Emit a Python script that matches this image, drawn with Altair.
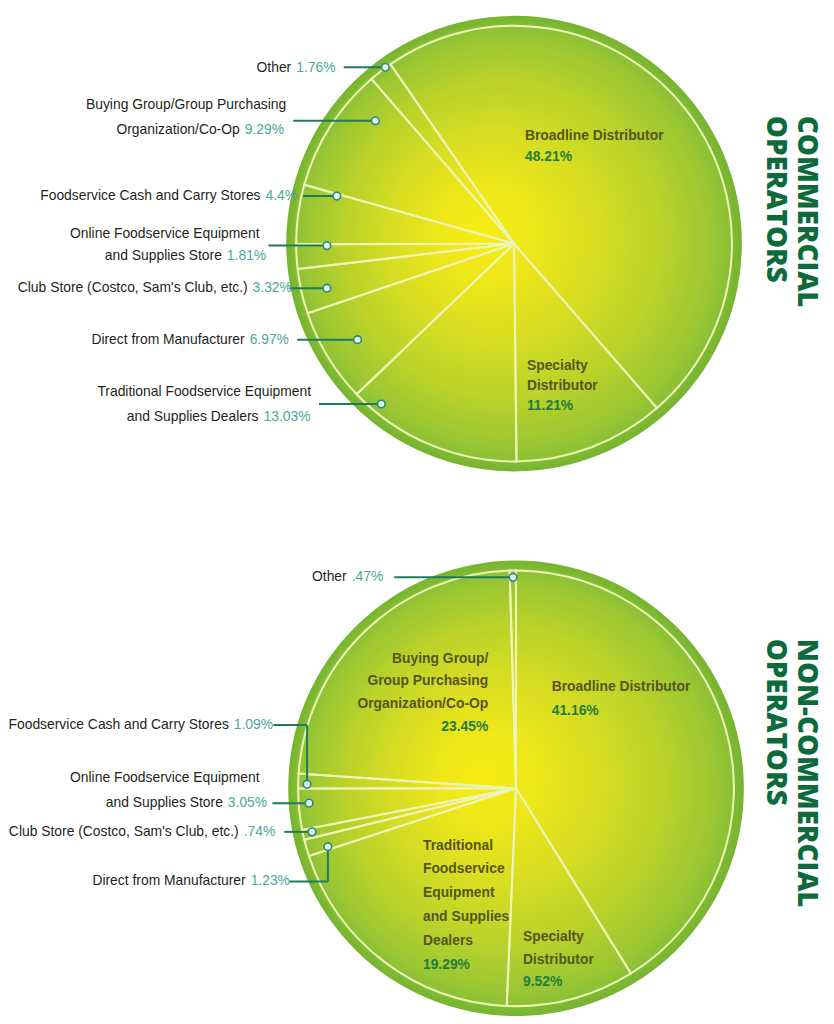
import math
import altair as alt
import pandas as pd

# ---------------- data ----------------
categories = [
    "Broadline Distributor",
    "Specialty Distributor",
    "Traditional Foodservice Equipment and Supplies Dealers",
    "Direct from Manufacturer",
    "Club Store (Costco, Sam's Club, etc.)",
    "Online Foodservice Equipment and Supplies Store",
    "Foodservice Cash and Carry Stores",
    "Buying Group/Group Purchasing Organization/Co-Op",
    "Other",
]
commercial_share = [48.21, 11.21, 13.03, 6.97, 3.32, 1.81, 4.4, 9.29, 1.76]
noncommercial_share = [41.16, 9.52, 19.29, 1.23, 0.74, 3.05, 1.09, 23.45, 0.47]
commercial_pct = ["48.21%", "11.21%", "13.03%", "6.97%", "3.32%", "1.81%", "4.4%", "9.29%", "1.76%"]
noncommercial_pct = ["41.16%", "9.52%", "19.29%", "1.23%", ".74%", "3.05%", "1.09%", "23.45%", ".47%"]

commercial_lines = [
    ["Broadline Distributor"],
    ["Specialty", "Distributor"],
    ["Traditional Foodservice Equipment", "and Supplies Dealers"],
    ["Direct from Manufacturer"],
    ["Club Store (Costco, Sam's Club, etc.)"],
    ["Online Foodservice Equipment", "and Supplies Store"],
    ["Foodservice Cash and Carry Stores"],
    ["Buying Group/Group Purchasing", "Organization/Co-Op"],
    ["Other"],
]
noncommercial_lines = [
    ["Broadline Distributor"],
    ["Specialty", "Distributor"],
    ["Traditional", "Foodservice", "Equipment", "and Supplies", "Dealers"],
    ["Direct from Manufacturer"],
    ["Club Store (Costco, Sam's Club, etc.)"],
    ["Online Foodservice Equipment", "and Supplies Store"],
    ["Foodservice Cash and Carry Stores"],
    ["Buying Group/", "Group Purchasing", "Organization/Co-Op"],
    ["Other"],
]
commercial_title = ["COMMERCIAL", "OPERATORS"]
noncommercial_title = ["NON-COMMERCIAL", "OPERATORS"]

# ---------------- layout (pixels) ----------------
W, H = 826, 1008
XS = alt.Scale(domain=[8, 8 + W], nice=False, zero=False)
YS = alt.Scale(domain=[8, 8 + H], nice=False, zero=False, reverse=True)
R_OUTER, R_SLICE = 230, 220

PIES = {
    "Commercial": dict(cx=519, cy=241, start_deg=325.44, title_y=112,
                       shares=commercial_share, pct=commercial_pct,
                       lines=commercial_lines, title=commercial_title),
    "Non-commercial": dict(cx=521, cy=791, start_deg=0.0, title_y=640,
                           shares=noncommercial_share, pct=noncommercial_pct,
                           lines=noncommercial_lines, title=noncommercial_title),
}
TITLE_X = [814, 782]

INSIDE = {
    "Commercial": {0: ("left", 530, 132, 22), 1: ("left", 532, 365, 20)},
    "Non-commercial": {0: ("left", 557, 689, 24), 1: ("left", 528, 941, 23),
                       2: ("left", 427, 849, 24), 7: ("right", 493, 660, 23)},
}
OUTSIDE = {
    "Commercial": {
        2: (266, [391, 416], [314], [(322, 403), (385, 403)]),
        3: (252, [338], [], [(300, 338), (361, 338)]),
        4: (255, [286], [], [(292, 286), (330, 286)]),
        5: (229, [231, 254], [262], [(271, 243), (330, 243)]),
        6: (268, [193], [], [(306, 193), (340, 193)]),
        7: (247, [101, 126], [289], [(296, 117), (379, 117)]),
        8: (299, [64], [], [(347, 63), (389, 63)]),
    },
    "Non-commercial": {
        3: (253, [885], [], [(292, 885), (331, 885), (331, 850)]),
        4: (246, [835], [], [(287, 835), (315, 835)]),
        5: (230, [781, 806], [262], [(275, 806), (312, 806)]),
        6: (236, [727], [], [(276, 727), (310, 727), (310, 787)]),
        8: (355, [578], [], [(398, 578), (518, 578)]),
    },
}

# ---------------- tables ----------------
pie_rows, disk_rows, text_rows, seg_rows, dot_rows, title_rows = [], [], [], [], [], []
for pie, L in PIES.items():
    disk_rows.append(dict(pie=pie, cx=L["cx"], cy=L["cy"]))
    for i, (c, s) in enumerate(zip(categories, L["shares"])):
        pie_rows.append(dict(pie=pie, category=c, idx=i, share=s, cx=L["cx"], cy=L["cy"]))
    for i, (kind, x, y0, lh) in INSIDE[pie].items():
        lines = L["lines"][i]
        for k, t in enumerate(lines):
            text_rows.append(dict(role="in_name_" + kind, x=x, y=y0 + k * lh, text=t))
        text_rows.append(dict(role="in_pct_" + kind, x=x, y=y0 + len(lines) * lh, text=L["pct"][i]))
    for i, (px, ys, rights, pts) in OUTSIDE[pie].items():
        lines = L["lines"][i]
        for k, t in enumerate(lines[:-1]):
            text_rows.append(dict(role="out_name", x=rights[k], y=ys[k], text=t))
        text_rows.append(dict(role="out_name", x=px - 5, y=ys[-1], text=lines[-1]))
        text_rows.append(dict(role="out_pct", x=px, y=ys[-1], text=L["pct"][i]))
        for (a, b) in zip(pts[:-1], pts[1:]):
            seg_rows.append(dict(x=a[0], y=a[1], x2=b[0], y2=b[1]))
        dot_rows.append(dict(x=pts[-1][0], y=pts[-1][1]))
    for k, t in enumerate(L["title"]):
        title_rows.append(dict(x=TITLE_X[k], y=L["title_y"], text=t))

pie_df = pd.DataFrame(pie_rows)
disk_df = pd.DataFrame(disk_rows)
text_df = pd.DataFrame(text_rows)
seg_df = pd.DataFrame(seg_rows)
dot_df = pd.DataFrame(dot_rows)
title_df = pd.DataFrame(title_rows)

X = lambda f: alt.X(f, scale=XS, axis=None)
Y = lambda f: alt.Y(f, scale=YS, axis=None)

gradient = alt.RadialGradient(
    gradient="radial",
    stops=[
        alt.GradientStop(offset=0.0, color="#f7ed12"),
        alt.GradientStop(offset=0.2, color="#efe719"),
        alt.GradientStop(offset=0.45, color="#d8dd22"),
        alt.GradientStop(offset=0.7, color="#bad22a"),
        alt.GradientStop(offset=0.9, color="#99c633"),
        alt.GradientStop(offset=0.955, color="#8cc035"),
        alt.GradientStop(offset=0.965, color="#80ba33"),
        alt.GradientStop(offset=1.0, color="#76b42f"),
    ],
    x1=0.42, y1=0.47, r1=0, x2=0.5, y2=0.5, r2=0.5,
)

disk = alt.Chart(disk_df).mark_arc(
    radius=R_OUTER, theta=0, theta2=2 * math.pi, fill=gradient
).encode(x=X("cx:Q"), y=Y("cy:Q"))


def slices(pie):
    start = math.radians(PIES[pie]["start_deg"])
    return alt.Chart(pie_df).transform_filter(alt.datum.pie == pie).mark_arc(
        radius=R_SLICE, fill="#ffffff", fillOpacity=0, stroke="#eef4b6", strokeWidth=2
    ).encode(
        x=X("cx:Q"), y=Y("cy:Q"),
        theta=alt.Theta("share:Q", stack=True,
                        scale=alt.Scale(domain=[0, 100], nice=False,
                                        range=[start, start + 2 * math.pi])),
        order=alt.Order("idx:Q", sort="ascending"),
    )


segs = alt.Chart(seg_df).mark_rule(color="#1e7b5e", strokeWidth=2).encode(
    x=X("x:Q"), y=Y("y:Q"), x2="x2:Q", y2="y2:Q")

dots = alt.Chart(dot_df).mark_point(
    shape="circle", filled=True, size=60, fill="#dff0ef", stroke="#2b8a7e",
    strokeWidth=1.6, opacity=1
).encode(x=X("x:Q"), y=Y("y:Q"))

FONT = "Liberation Sans, Arial, sans-serif"


def text_layer(role, align, color, weight, size):
    return alt.Chart(text_df).transform_filter(alt.datum.role == role).mark_text(
        align=align, baseline="middle", color=color, fontWeight=weight,
        fontSize=size, font=FONT
    ).encode(x=X("x:Q"), y=Y("y:Q"), text="text:N")


texts = [
    text_layer("out_name", "right", "#231f20", "normal", 14),
    text_layer("out_pct", "left", "#4aa79b", "normal", 14),
    text_layer("in_name_left", "left", "#55561d", "bold", 14),
    text_layer("in_pct_left", "left", "#1f7d3d", "bold", 14),
    text_layer("in_name_right", "right", "#55561d", "bold", 14),
    text_layer("in_pct_right", "right", "#1f7d3d", "bold", 14),
]

titles = alt.Chart(title_df).mark_text(
    angle=90, align="left", baseline="middle", color="#0d6b3b",
    fontWeight=800, fontSize=28, font="Open Sans, DejaVu Sans, sans-serif"
).encode(x=X("x:Q"), y=Y("y:Q"), text="text:N")

chart = alt.layer(
    disk, slices("Commercial"), slices("Non-commercial"), segs, dots, *texts, titles
).resolve_scale(theta="independent").properties(
    width=W, height=H, autosize="none", padding=0, background="white"
).configure_view(stroke="transparent")

chart.save("out.html", embed_options={"renderer": "svg", "actions": False})
